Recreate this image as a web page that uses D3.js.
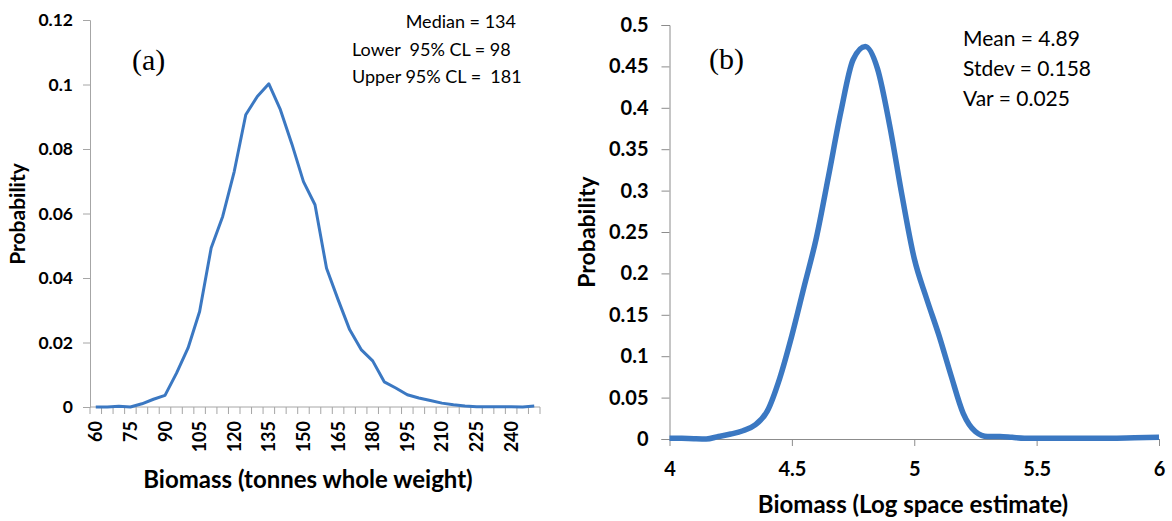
<!DOCTYPE html>
<html><head><meta charset="utf-8">
<script src="https://cdn.jsdelivr.net/npm/d3@7"></script>
<style>
body{margin:0;background:#fff;}
svg{display:block;}
text{font-family:Lato,"Open Sans",sans-serif;fill:#000;}
</style></head>
<body>
<svg id="c" width="1172" height="521"></svg>
<script>
// ---- Panel (a) data ----
const catsA = [60,65,70,75,80,85,90,95,100,105,110,115,120,125,130,135,140,145,150,155,160,165,170,175,180,185,190,195,200,205,210,215,220,225,230,235,240,245,250];
const probA = [0,0,0.0002,0,0.001,0.0024,0.0036,0.0105,0.0183,0.0296,0.0493,0.0591,0.0730,0.0906,0.0963,0.1002,0.0922,0.0815,0.0699,0.0627,0.0430,0.0333,0.0240,0.0178,0.0143,0.0078,0.0059,0.0038,0.0028,0.0020,0.0012,0.0007,0.0003,0.0001,0.0001,0.0001,0.0001,0,0.0003];
const yTicksA = [0,0.02,0.04,0.06,0.08,0.1,0.12];
const xLabelA = [60,75,90,105,120,135,150,165,180,195,210,225,240];
const annA = ["Median = 134","Lower  95% CL = 98","Upper 95% CL =  181"];

// ---- Panel (b) data ----
const xB = [4.00,4.05,4.10,4.15,4.20,4.25,4.30,4.35,4.40,4.45,4.50,4.55,4.60,4.65,4.70,4.75,4.80,4.85,4.90,4.95,5.00,5.05,5.10,5.15,5.20,5.25,5.30,5.35,5.40,5.45,5.50,5.60,5.70,5.80,5.90,6.00];
const pB = [0.001,0.0008,0.0003,0,0.003,0.006,0.010,0.017,0.034,0.073,0.125,0.184,0.243,0.318,0.395,0.458,0.474,0.447,0.378,0.294,0.218,0.170,0.126,0.077,0.031,0.009,0.003,0.003,0.002,0.001,0.001,0.001,0.001,0.001,0.0015,0.002];
const yTicksB = [0,0.05,0.1,0.15,0.2,0.25,0.3,0.35,0.4,0.45,0.5];
const xTicksB = [4,4.5,5,5.5,6];
const annB = ["Mean = 4.89","Stdev = 0.158","Var = 0.025"];

const svg = d3.select("#c");
const blue = "#3b78c2";
const axisCol = "#a6a6a6";
const fmt = d=> d===0?"0":String(+d.toFixed(2));

// ===== Panel (a) =====
const gA = svg.append("g");
const xA = d3.scaleBand().domain(catsA).range([90,540]).padding(0);
const yA = d3.scaleLinear().domain([0,0.12]).range([407,20]);

const yAxA = d3.axisLeft(yA).tickValues(yTicksA).tickSize(7).tickPadding(10).tickFormat(fmt);
const gyA = gA.append("g").attr("transform","translate(90,0)").call(yAxA);
gyA.select(".domain").attr("stroke",axisCol);
gyA.selectAll(".tick line").attr("stroke",axisCol);
gyA.selectAll(".tick text").style("font-size","17.5px").style("font-weight","bold");

const gxA = gA.append("g").attr("transform","translate(0,407)");
gxA.append("line").attr("x1",90).attr("x2",540).attr("y1",0).attr("y2",0).attr("stroke",axisCol);
const bounds = catsA.map(c=>xA(c)).concat([540]);
gxA.selectAll("line.tk").data(bounds).join("line").attr("class","tk")
  .attr("x1",d=>d).attr("x2",d=>d).attr("y1",0).attr("y2",7).attr("stroke",axisCol);
gxA.selectAll("text.lb").data(xLabelA).join("text").attr("class","lb")
  .attr("transform",d=>`translate(${xA(d)+xA.bandwidth()/2+6.5},14) rotate(-90)`)
  .attr("text-anchor","end").style("font-size","18px").style("font-weight","bold")
  .text(d=>d);

gA.append("path").datum(catsA.map((c,i)=>[c,probA[i]]))
  .attr("fill","none").attr("stroke",blue).attr("stroke-width",3).attr("stroke-linejoin","round")
  .attr("d", d3.line().x(d=>xA(d[0])+xA.bandwidth()/2).y(d=>yA(d[1])));

gA.append("text").attr("transform","translate(25,214) rotate(-90)").attr("text-anchor","middle")
  .style("font-size","21px").style("font-weight","bold").text("Probability");
gA.append("text").attr("x",308).attr("y",488).attr("text-anchor","middle")
  .style("font-size","24px").style("font-weight","bold").text("Biomass (tonnes whole weight)");
gA.append("text").attr("x",132).attr("y",70).style("font-family","'Liberation Serif','Times New Roman',serif")
  .style("font-size","30px").text("(a)");
gA.append("text").attr("x",516).attr("y",28).attr("text-anchor","end").style("font-size","18px").text(annA[0]);
gA.append("text").attr("x",352).attr("y",56).attr("xml:space","preserve").style("white-space","pre").style("font-size","18px").text(annA[1]);
gA.append("text").attr("x",352).attr("y",83).attr("xml:space","preserve").style("white-space","pre").style("font-size","18px").text(annA[2]);

// ===== Panel (b) =====
const gB = svg.append("g");
const xScB = d3.scaleLinear().domain([4,6]).range([669.5,1159]);
const yScB = d3.scaleLinear().domain([0,0.5]).range([439,25]);

const yAxB = d3.axisLeft(yScB).tickValues(yTicksB).tickSize(8).tickPadding(13).tickFormat(fmt);
const gyB = gB.append("g").attr("transform","translate(669.5,0)").call(yAxB);
gyB.select(".domain").attr("stroke","#8c8c8c");
gyB.selectAll(".tick line").attr("stroke","#8c8c8c");
gyB.selectAll(".tick text").style("font-size","20px").style("font-weight","bold");

const xAxB = d3.axisBottom(xScB).tickValues(xTicksB).tickSize(7).tickPadding(16).tickSizeOuter(0)
  .tickFormat(d=>String(d));
const gxB = gB.append("g").attr("transform","translate(0,439)").call(xAxB);
gxB.select(".domain").attr("stroke","#8c8c8c");
gxB.selectAll(".tick line").attr("stroke","#8c8c8c");
gxB.selectAll(".tick text").style("font-size","20px").style("font-weight","bold");

gB.append("path").datum(xB.map((x,i)=>[x,pB[i]]))
  .attr("fill","none").attr("stroke",blue).attr("stroke-width",5.5).attr("stroke-linejoin","round")
  .attr("d", d3.line().curve(d3.curveMonotoneX).x(d=>xScB(d[0])).y(d=>yScB(d[1])));

gB.append("text").attr("transform","translate(595,232) rotate(-90)").attr("text-anchor","middle")
  .style("font-size","23px").style("font-weight","bold").text("Probability");
gB.append("text").attr("x",913).attr("y",513).attr("text-anchor","middle")
  .style("font-size","24px").style("font-weight","bold").text("Biomass (Log space estimate)");
gB.append("text").attr("x",709).attr("y",69).style("font-family","'Liberation Serif','Times New Roman',serif")
  .style("font-size","30px").text("(b)");
annB.forEach((t,i)=>{
  gB.append("text").attr("x",963).attr("y",46+i*30).style("font-size","21px").text(t);
});
</script>
</body></html>
